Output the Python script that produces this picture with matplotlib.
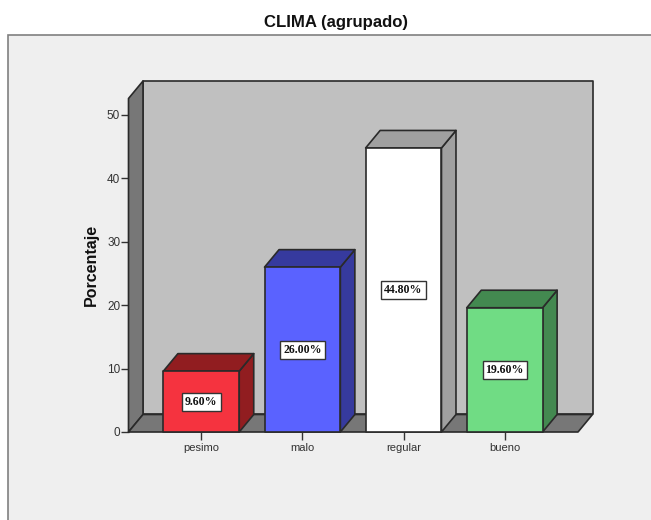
import matplotlib
matplotlib.use('Agg')
import matplotlib.pyplot as plt
from matplotlib.patches import Polygon, Rectangle

categories = ['pesimo', 'malo', 'regular', 'bueno']
values = [9.6, 26.0, 44.8, 19.6]
labels = ['9.60%', '26.00%', '44.80%', '19.60%']
front_colors = ['#F5333F', '#5A62FF', '#FFFFFF', '#70DC84']
dark_colors = ['#911D20', '#363A9E', '#A0A0A0', '#438950']
yticks = [0, 10, 20, 30, 40, 50]

W, H = 651, 520
LINE = '#2A2A2A'

plt.rcParams['font.family'] = ['Liberation Sans', 'DejaVu Sans']

fig = plt.figure(figsize=(W / 100, H / 100), dpi=100, facecolor='white')

# outer grey panel, runs off the right and bottom edge like the screenshot
fig.add_artist(Rectangle((8 / W, -0.01), 1, 1 - 35 / H + 0.01, transform=fig.transFigure,
                         facecolor='#EFEFEF', edgecolor='#808080', linewidth=1.2, zorder=-5))
fig.text(336.5 / W, 1 - 22.5 / H, 'CLIMA (agrupado)', ha='center', va='center',
         fontsize=12.1, fontweight='bold', color='#111111')

# axes = front plane of the 3d box
left, right, bottom, top = 128.5, 578, 432, 98.5
ax = fig.add_axes([left / W, 1 - bottom / H, (right - left) / W, (bottom - top) / H])
ax.set_xlim(-0.72, 3.725)
ax.set_ylim(0, 52.6)
ax.patch.set_visible(False)
for s in ax.spines.values():
    s.set_visible(False)

# depth of the box in data units
dx = 14.5 / 101.1
dy = 17.5 / 6.34
x0, x1 = ax.get_xlim()
y0, y1 = ax.get_ylim()


def poly(pts, color, z, lw=1.2, ec=LINE):
    ax.add_patch(Polygon(pts, closed=True, facecolor=color, edgecolor=ec, linewidth=lw,
                         zorder=z, clip_on=False, joinstyle='round'))


poly([(x0 + dx, y0 + dy), (x1 + dx, y0 + dy), (x1 + dx, y1 + dy), (x0 + dx, y1 + dy)], '#C0C0C0', 1)
poly([(x0, y0), (x0 + dx, y0 + dy), (x0 + dx, y1 + dy), (x0, y1)], '#777777', 2)
poly([(x0, y0), (x1, y0), (x1 + dx, y0 + dy), (x0 + dx, y0 + dy)], '#777777', 2)

# bars
w = 0.75
for i, v in enumerate(values):
    a, b = i - w / 2, i + w / 2
    poly([(b, 0), (b + dx, dy), (b + dx, v + dy), (b, v)], dark_colors[i], 3 + i)
    poly([(a, v), (b, v), (b + dx, v + dy), (a + dx, v + dy)], dark_colors[i], 3 + i)
    poly([(a, 0), (b, 0), (b, v), (a, v)], front_colors[i], 3 + i)
    ax.text(i, v / 2, labels[i], ha='center', va='center', fontsize=8.5, fontweight='bold',
            family=['Liberation Serif'], color='#111111', zorder=10,
            bbox=dict(boxstyle='square,pad=0.25', facecolor='white', edgecolor='#333333', linewidth=1))

ax.set_xticks(range(len(categories)))
ax.set_xticklabels(categories, fontsize=8, color='#333333')
ax.set_yticks(yticks)
ax.set_yticklabels([str(t) for t in yticks], fontsize=8.5, color='#333333')
ax.tick_params(axis='x', length=6, width=1, color='#333333', pad=2)
ax.tick_params(axis='y', length=6, width=1, color='#333333', pad=0)
ax.set_ylabel('Porcentaje', fontsize=11.5, fontweight='bold', color='#111111')
ax.yaxis.set_label_coords((99 - left) / (right - left), (bottom - 265) / (bottom - top))

fig.savefig('out.png', dpi=100)
